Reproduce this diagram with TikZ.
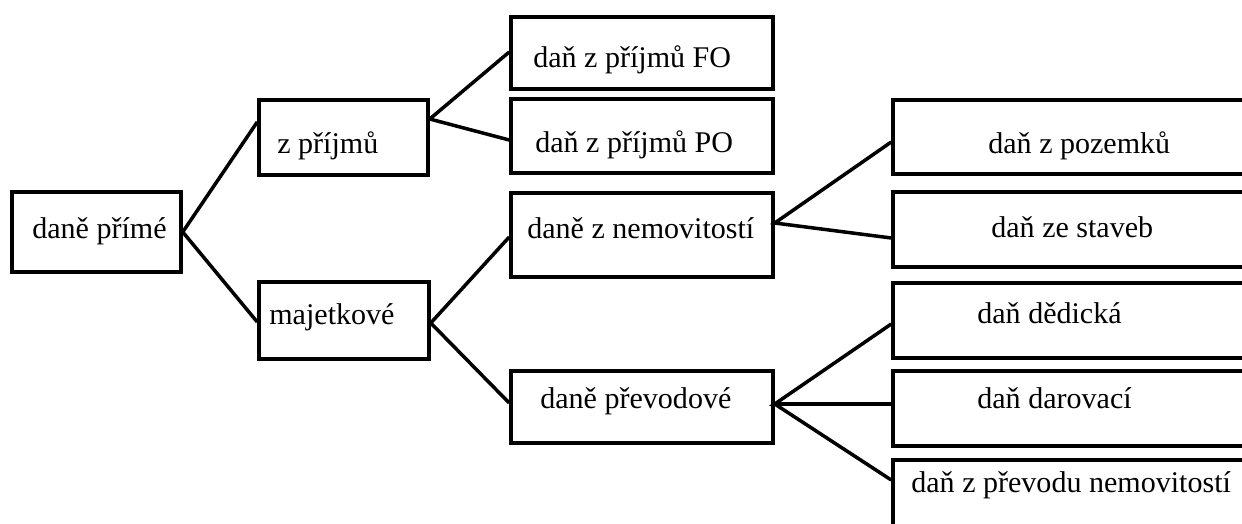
\documentclass[tikz,border=0pt]{standalone}
\usepackage{fontspec}
\setmainfont{Liberation Serif}
\usetikzlibrary{calc}

\begin{document}
\begin{tikzpicture}[
          x=0.02cm, y=-0.02cm,
          box/.style={draw, line width=2pt, inner sep=0pt, minimum height=75*0.02cm},
          lbl/.style={anchor=base west, inner sep=0pt, font=\fontsize{17.1}{20}\selectfont},
          link/.style={line width=2pt}
      ]
        \useasboundingbox (0,0) rectangle (1242,524);
        \clip (0,0) rectangle (1242,524);
        % boxes
        \node[box, minimum width=169*0.02cm, minimum height=80*0.02cm] (prime) at (96.5,232) {};
        \node[box, minimum width=169*0.02cm] (income) at (343.5,137.5) {};
        \node[box, minimum width=170*0.02cm, minimum height=77*0.02cm] (property) at (344,320.5) {};
        \node[box, minimum width=262*0.02cm, minimum height=72*0.02cm] (fo) at (642,53) {};
        \node[box, minimum width=262*0.02cm, minimum height=74*0.02cm] (po) at (642,136) {};
        \node[box, minimum width=262*0.02cm, minimum height=84*0.02cm] (realty) at (642,235) {};
        \node[box, minimum width=262*0.02cm, minimum height=72*0.02cm] (transfer) at (642,407) {};
        \node[box, minimum width=400*0.02cm, minimum height=74*0.02cm] (land) at (1093,137) {};
        \node[box, minimum width=400*0.02cm] (build) at (1093,229.5) {};
        \node[box, minimum width=400*0.02cm] (inherit) at (1093,320.5) {};
        \node[box, minimum width=400*0.02cm] (gift) at (1093,408.5) {};
        \node[box, minimum width=400*0.02cm, minimum height=76*0.02cm] (realtytr) at (1093,498) {};
        % texts
        \node[lbl] (prime-t) at (32,238) {daně přímé};
        \node[lbl] (income-t) at (277,153) {z příjmů};
        \node[lbl] (property-t) at (269,324) {majetkové};
        \node[lbl] (fo-t) at (533,68) {daň z příjmů FO};
        \node[lbl] (po-t) at (535,152) {daň z příjmů PO};
        \node[lbl] (realty-t) at (527,238) {daně z nemovitostí};
        \node[lbl] (transfer-t) at (540,408) {daně převodové};
        \node[lbl] (land-t) at (988,153) {daň z pozemků};
        \node[lbl] (build-t) at (991,237) {daň ze staveb};
        \node[lbl] (inherit-t) at (977,323) {daň dědická};
        \node[lbl] (gift-t) at (977,408) {daň darovací};
        \node[lbl] (realtytr-t) at (911,492) {daň z převodu nemovitostí};
        % connectors
        \draw[link] ($(income.west)+(0,-15.5)$) -- (prime.east) -- ($(property.west)+(0,1.5)$);
        \draw[link] ($(fo.west)+(0,-1)$) -- ($(income.east)+(0,-18.5)$) -- ($(po.west)+(0,4)$);
        \draw[link] ($(realty.west)+(0,2)$) -- ($(property.east)+(0,2.5)$) -- ($(transfer.west)+(0,-4)$);
        \draw[link] ($(land.west)+(0,5)$) -- ($(realty.east)+(0,-12)$) -- ($(build.west)+(0,8.5)$);
        \draw[link] ($(inherit.west)+(0,3.5)$) -- ($(transfer.east)+(0,-3)$) -- ($(gift.west)+(0,-4.5)$);
        \draw[link] ($(transfer.east)+(0,-3)$) -- ($(realtytr.west)+(0,-18)$);
      \end{tikzpicture}
\end{document}
